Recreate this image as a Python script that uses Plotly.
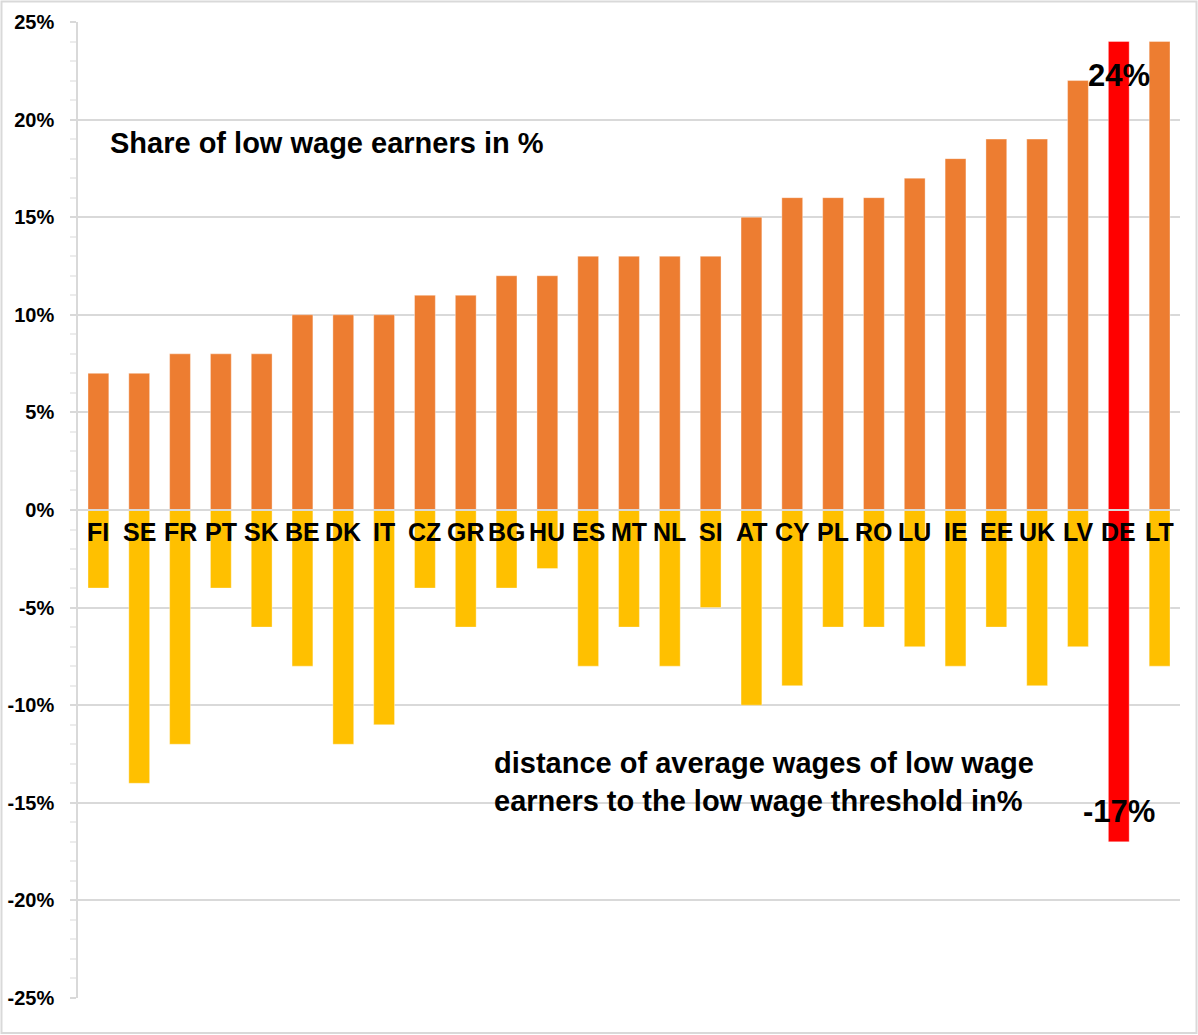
import plotly.graph_objects as go

# Country codes, ordered by share of low wage earners
countries = ["FI", "SE", "FR", "PT", "SK", "BE", "DK", "IT", "CZ", "GR", "BG", "HU", "ES", "MT",
             "NL", "SI", "AT", "CY", "PL", "RO", "LU", "IE", "EE", "UK", "LV", "DE", "LT"]

# Share of low wage earners (%)
low_wage_share = [7, 7, 8, 8, 8, 10, 10, 10, 11, 11, 12, 12, 13, 13,
                  13, 13, 15, 16, 16, 16, 17, 18, 19, 19, 22, 24, 24]

# Distance of average low wages to the low wage threshold (%)
threshold_distance = [-4, -14, -12, -4, -6, -8, -12, -11, -4, -6, -4, -3, -8, -6,
                      -8, -5, -10, -9, -6, -6, -7, -8, -6, -9, -7, -17, -8]

highlight = "DE"
y_ticks = [-25, -20, -15, -10, -5, 0, 5, 10, 15, 20, 25]

ORANGE = "#ED7D31"
YELLOW = "#FFC000"
RED = "#FF0000"
GRID = "#d9d9d9"
FONT = "Liberation Sans, Arial, sans-serif"

share_colors = [RED if c == highlight else ORANGE for c in countries]
dist_colors = [RED if c == highlight else YELLOW for c in countries]

fig = go.Figure()
fig.add_trace(go.Bar(x=countries, y=low_wage_share, width=0.51,
                     marker=dict(color=share_colors, line=dict(width=0.6, color="rgba(255,255,255,0.6)")),
                     hoverinfo="x+y", showlegend=False))
fig.add_trace(go.Bar(x=countries, y=threshold_distance, width=0.51,
                     marker=dict(color=dist_colors, line=dict(width=0.6, color="rgba(255,255,255,0.6)")),
                     hoverinfo="x+y", showlegend=False))

# Country labels just below the zero line
annotations = []
for c in countries:
    annotations.append(dict(x=c, y=0, xref="x", yref="y", text=f"<b>{c}</b>", showarrow=False,
                            yanchor="middle", yshift=-22,
                            font=dict(family=FONT, size=25, color="black")))

# Values of the highlighted country
hi = countries.index(highlight)
annotations.append(dict(x=countries[hi], y=low_wage_share[hi], xref="x", yref="y",
                        text=f"<b>{low_wage_share[hi]}%</b>", showarrow=False,
                        yanchor="middle", yshift=-34,
                        font=dict(family=FONT, size=31, color="black")))
annotations.append(dict(x=countries[hi], y=threshold_distance[hi], xref="x", yref="y",
                        text=f"<b>{threshold_distance[hi]}%</b>", showarrow=False,
                        yanchor="middle", yshift=30,
                        font=dict(family=FONT, size=31, color="black")))

# Series descriptions
annotations.append(dict(x=(108 - 78) / 1102, y=(998 - 143) / 976, xref="paper", yref="paper",
                        text="<b>Share of low wage earners in %</b>", showarrow=False,
                        xanchor="left", yanchor="middle",
                        font=dict(family=FONT, size=29, color="black")))
annotations.append(dict(x=(492 - 78) / 1102, y=(998 - 782) / 976, xref="paper", yref="paper",
                        text="<b>distance of average wages of low wage<br>earners to the low wage threshold in%</b>",
                        showarrow=False, xanchor="left", yanchor="middle", align="left",
                        font=dict(family=FONT, size=29, color="black")))

fig.update_layout(
    width=1198, height=1035,
    margin=dict(l=78, r=18, t=22, b=37),
    paper_bgcolor="white", plot_bgcolor="white",
    barmode="relative", bargap=0.49,
    annotations=annotations,
    shapes=[
        # zero line drawn over the bars
        dict(type="line", xref="paper", yref="y", x0=0, x1=1, y0=0, y1=0,
             line=dict(color=GRID, width=2), layer="above"),
        # outer frame
        dict(type="rect", xref="paper", yref="paper",
             x0=(1.5 - 78) / 1102, x1=(1196.5 - 78) / 1102,
             y0=(998 - 1033) / 976, y1=(998 - 1.5) / 976,
             line=dict(color=GRID, width=2), layer="below"),
    ],
)

fig.update_xaxes(showticklabels=False, showgrid=False, zeroline=False, showline=False,
                 ticks="", range=[-0.5, len(countries) - 0.5], automargin=False)
fig.update_yaxes(range=[-25, 25], tickvals=y_ticks, ticktext=[f"<b>{v}%</b>" for v in y_ticks],
                 showgrid=True, gridcolor=GRID, gridwidth=1.5, zeroline=False,
                 showline=True, linecolor=GRID, linewidth=1.5,
                 ticks="outside", ticklen=6, tickcolor=GRID, tickwidth=1.5,
                 ticklabelstandoff=12, automargin=False,
                 minor=dict(dtick=1, ticks="outside", ticklen=6, tickcolor="#ececec", showgrid=False),
                 tickfont=dict(family=FONT, size=20, color="black"))

fig.write_html("out.html")
